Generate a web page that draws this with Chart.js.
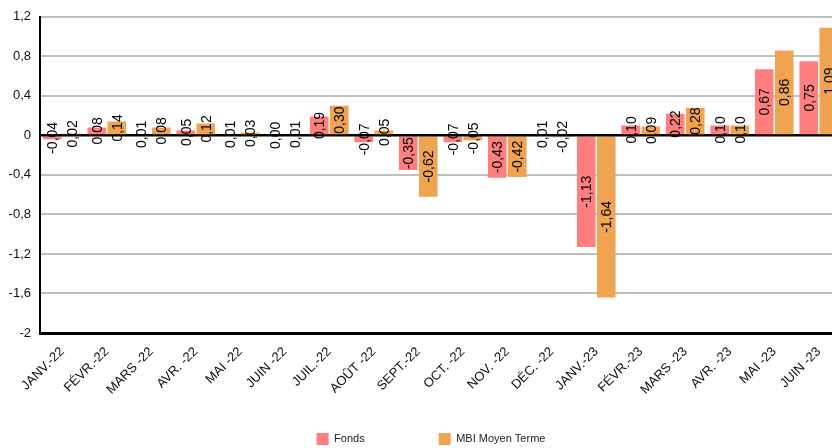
<!DOCTYPE html>
<html><head><meta charset="utf-8">
<script src="https://cdn.jsdelivr.net/npm/chart.js@4/dist/chart.umd.min.js"></script>
<style>
html,body{margin:0;padding:0;overflow:hidden;background:#fff;width:832px;height:448px}
#wrap{position:absolute;left:0;top:0;width:850px;height:455px}
canvas{display:block}
</style>
</head><body><div id="wrap"><canvas id="c" width="850" height="455" style="width:850px;height:455px"></canvas></div>
<script>
const categories = ["JANV.-22","FÉVR.-22","MARS -22","AVR. -22","MAI -22","JUIN -22","JUIL.-22","AOÛT -22","SEPT.-22","OCT. -22","NOV. -22","DÉC. -22","JANV.-23","FÉVR.-23","MARS -23","AVR. -23","MAI -23","JUIN -23"];
const fondsValues = [-0.04,0.08,0.01,0.05,0.01,0.00,0.19,-0.07,-0.35,-0.07,-0.43,0.01,-1.13,0.10,0.22,0.10,0.67,0.75];
const mbiValues = [0.02,0.14,0.08,0.12,0.03,0.01,0.30,0.05,-0.62,-0.05,-0.42,-0.02,-1.64,0.09,0.28,0.10,0.86,1.09];
const yTicks = [-2,-1.6,-1.2,-0.8,-0.4,0,0.4,0.8,1.2];
const seriesNames = ["Fonds","MBI Moyen Terme"];

const FONT = "'Liberation Sans', Arial, sans-serif";
const fmtTick = v => { let s = (Math.round(v*10)/10).toFixed(1); if (s.endsWith('.0')) s = s.slice(0,-2); if (s === '-0') s = '0'; return s.replace('.', ','); };
const fmtVal = v => v.toFixed(2).replace('.', ',');
const noLabelClip = s => { s._computeLabelArea = () => undefined; };

const overlay = {
  id: 'overlay',
  afterDatasetsDraw(chart) {
    const ctx = chart.ctx, area = chart.chartArea, y = chart.scales.y;
    const y0 = y.getPixelForValue(0);
    ctx.save();
    ctx.strokeStyle = '#000';
    ctx.lineWidth = 2;
    ctx.beginPath(); ctx.moveTo(area.left, y0); ctx.lineTo(area.right, y0); ctx.stroke();
    ctx.fillStyle = '#000';
    ctx.font = '14px ' + FONT;
    ctx.textAlign = 'center';
    ctx.textBaseline = 'middle';
    chart.data.datasets.forEach((ds, di) => {
      const meta = chart.getDatasetMeta(di);
      meta.data.forEach((bar, i) => {
        const cy = (bar.y + bar.base) / 2;
        ctx.save();
        ctx.translate(bar.x, cy);
        ctx.rotate(-Math.PI / 2);
        ctx.fillText(fmtVal(ds.data[i]), 0, 1);
        ctx.restore();
      });
    });
    ctx.restore();
  }
};

new Chart(document.getElementById('c'), {
  type: 'bar',
  data: {
    labels: categories,
    datasets: [
      { label: seriesNames[0], data: fondsValues, backgroundColor: '#FF7F7F', categoryPercentage: 0.9, barPercentage: 0.93 },
      { label: seriesNames[1], data: mbiValues, backgroundColor: '#F0A452', categoryPercentage: 0.9, barPercentage: 0.93 }
    ]
  },
  options: {
    responsive: false,
    animation: false,
    devicePixelRatio: 1,
    layout: { padding: { left: 21, right: 9, top: 13, bottom: 0 } },
    plugins: {
      tooltip: { enabled: false },
      legend: {
        position: 'bottom',
        labels: { boxWidth: 12, boxHeight: 12, padding: 74, color: '#222', font: { family: FONT, size: 11 } }
      }
    },
    scales: {
      x: {
        grid: { display: false },
        border: { display: true, color: '#000', width: 3 },
        ticks: { maxRotation: 45, minRotation: 45, autoSkip: false, padding: 3, color: '#111', font: { family: FONT, size: 13 } },
        afterFit(s) { s.height = 26; noLabelClip(s); }
      },
      y: {
        min: -2, max: 1.2,
        afterBuildTicks(s) { s.ticks = yTicks.map(v => ({ value: v })); },
        grid: { color: ctx => (ctx.tick && ctx.tick.value === 0) ? '#000' : '#C0C0C0', lineWidth: 2, drawTicks: false },
        border: { display: true, color: '#000', width: 2 },
        ticks: { padding: 9, color: '#111', font: { family: FONT, size: 13 }, callback: v => fmtTick(v) },
        afterFit(s) { s.width = 19; noLabelClip(s); }
      }
    }
  },
  plugins: [overlay]
});
</script>
</body></html>
